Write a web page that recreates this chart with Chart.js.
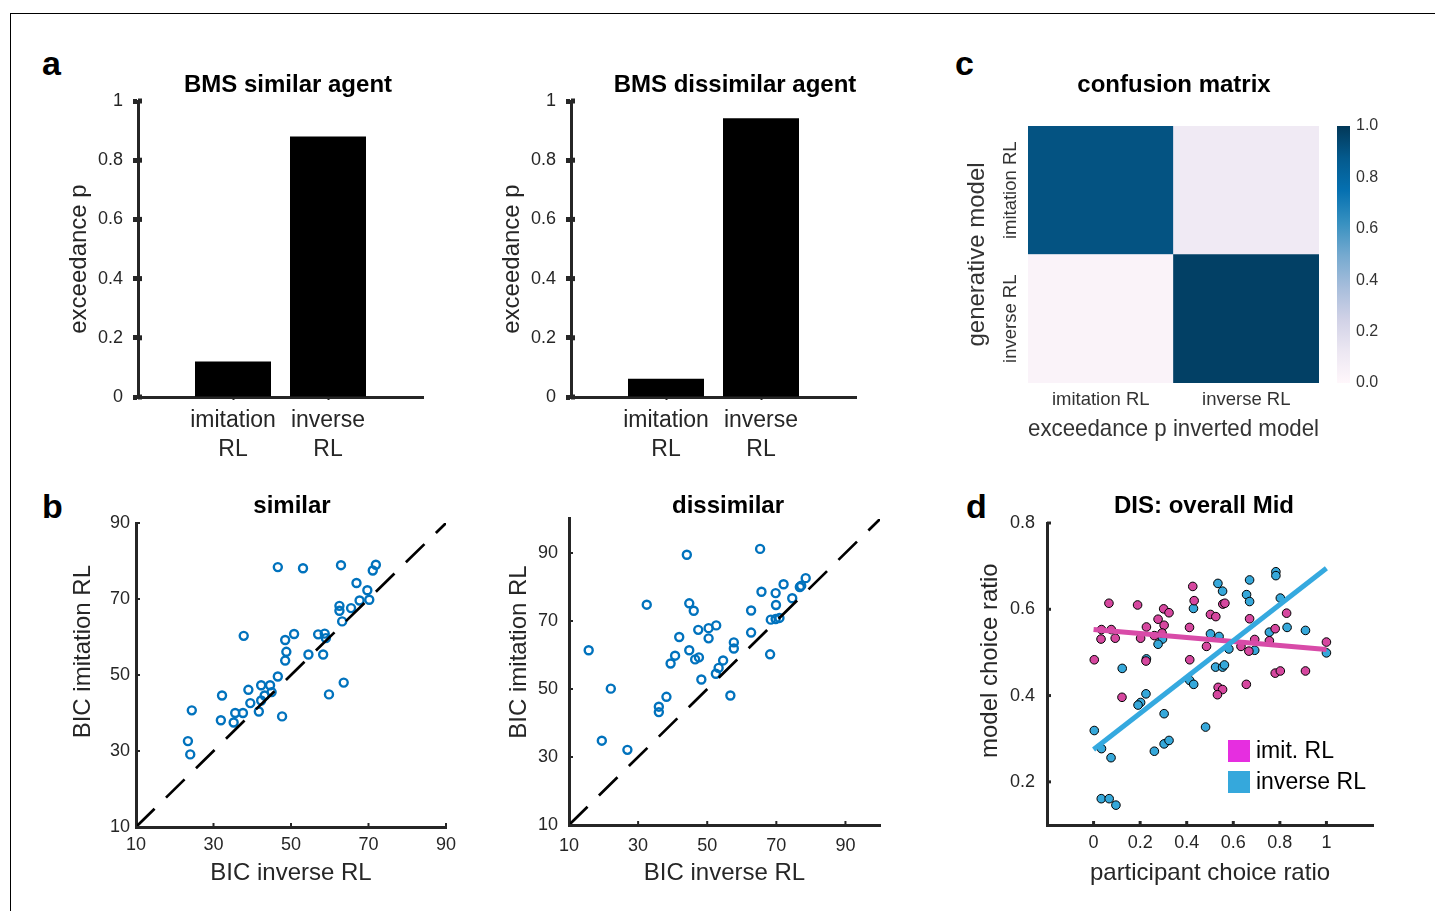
<!DOCTYPE html>
<html>
<head>
<meta charset="utf-8">
<script src="https://cdn.jsdelivr.net/npm/chart.js@4.4.1/dist/chart.umd.min.js"></script>
<style>
  body { margin: 0; background: #fff; width: 1435px; height: 911px; overflow: hidden; position: relative;
         font-family: 'Liberation Sans', Arial, Helvetica, sans-serif; }
  canvas { position: absolute; }
  .frame { position: absolute; left: 10px; top: 13px; width: 1430px; height: 900px;
           border-top: 1px solid #000; border-left: 1px solid #000; }
  .lbl { position: absolute; font-weight: bold; font-size: 34px; line-height: 34px; color: #000; }
</style>
</head>
<body>
<div class="frame"></div>
<div class="lbl" style="left:42px;top:46px">a</div>
<div class="lbl" style="left:42px;top:489px">b</div>
<div class="lbl" style="left:955px;top:46px">c</div>
<div class="lbl" style="left:966px;top:489px">d</div>
<script>
// panel a : exceedance p
const barCats = [['imitation', 'RL'], ['inverse', 'RL']];
const similarP = [0.12, 0.88];
const dissimilarP = [0.062, 0.942];
const pTicks = [0, 0.2, 0.4, 0.6, 0.8, 1];

// panel c : confusion matrix (rows = generative model, top to bottom)
const heatCols = ['imitation RL', 'inverse RL'];
const heatRows = ['imitation RL', 'inverse RL'];
const confusion = [[0.90, 0.10], [0.03, 0.97]];
const cbarTicks = [0, 0.2, 0.4, 0.6, 0.8, 1];

// panel b : BIC
const bicTicks = [10, 30, 50, 70, 90];
const simInv = [46.6, 53.1, 62.9, 71.9, 71.1, 66.9, 69.7, 67.7, 70.2, 62.5, 62.5, 65.5, 63.2, 37.8, 50.8, 57.0, 58.7, 59.0, 48.5, 48.8, 54.5, 58.3, 48.5, 46.6, 63.6, 59.8, 42.3, 44.6, 45.0, 43.2, 39.0, 32.2, 42.3, 39.5, 24.4, 35.6, 37.6, 41.7, 47.7, 31.9, 35.2, 23.4, 24.0];
const simImit = [78.4, 78.1, 78.9, 79.0, 77.5, 74.2, 72.3, 69.6, 69.8, 68.2, 66.9, 67.6, 64.1, 60.3, 60.8, 60.7, 60.9, 59.7, 59.2, 56.1, 55.4, 55.4, 53.8, 49.6, 48.0, 44.9, 47.3, 47.3, 45.5, 44.6, 46.1, 44.6, 43.3, 42.6, 40.7, 40.0, 40.0, 40.4, 39.1, 38.1, 37.5, 32.6, 29.1];
const disInv = [44.1, 65.3, 78.5, 72.1, 76.8, 77.2, 65.7, 69.8, 74.6, 69.9, 32.5, 44.8, 46.1, 62.7, 68.4, 69.8, 70.9, 52.6, 50.4, 47.4, 62.7, 41.9, 50.4, 57.7, 57.7, 44.8, 15.7, 40.7, 47.6, 46.5, 39.4, 54.6, 53.3, 52.5, 68.2, 48.3, 22.1, 38.2, 56.7, 36.0, 36.0, 19.5, 26.9];
const disImit = [89.5, 91.2, 82.6, 80.8, 80.0, 80.4, 78.6, 78.2, 76.7, 74.7, 74.8, 75.2, 73.0, 73.1, 70.4, 70.6, 70.9, 68.7, 67.9, 67.4, 66.6, 65.3, 64.9, 63.7, 61.9, 61.4, 61.4, 59.8, 59.3, 58.7, 57.5, 58.4, 56.2, 54.5, 60.2, 52.8, 50.1, 47.7, 48.1, 44.8, 43.2, 34.8, 32.1];

// panel d : choice ratios
const dXTicks = [0, 0.2, 0.4, 0.6, 0.8, 1];
const dYTicks = [0.2, 0.4, 0.6, 0.8];
const imitX = [0.066, 0.189, 0.426, 0.432, 0.670, 0.829, 0.555, 0.564, 0.301, 0.324, 0.277, 0.303, 0.227, 0.412, 0.034, 0.076, 0.032, 0.093, 0.202, 0.261, 0.294, 0.502, 0.525, 0.780, 0.755, 0.692, 0.633, 0.667, 0.485, 0.003, 0.225, 0.413, 0.122, 0.535, 0.554, 0.532, 0.656, 0.780, 0.802, 0.910, 1.000];
const imitY = [0.614, 0.610, 0.653, 0.620, 0.578, 0.591, 0.612, 0.614, 0.601, 0.592, 0.577, 0.563, 0.559, 0.558, 0.553, 0.553, 0.531, 0.533, 0.533, 0.539, 0.545, 0.588, 0.583, 0.555, 0.527, 0.530, 0.514, 0.503, 0.514, 0.483, 0.480, 0.483, 0.396, 0.419, 0.414, 0.402, 0.426, 0.452, 0.457, 0.457, 0.524];
const invX = [0.534, 0.554, 0.670, 0.783, 0.783, 0.657, 0.670, 0.802, 0.429, 0.831, 0.910, 0.755, 0.502, 0.539, 0.581, 0.692, 0.296, 0.277, 0.227, 1.000, 0.123, 0.524, 0.554, 0.562, 0.413, 0.430, 0.225, 0.202, 0.191, 0.303, 0.481, 0.003, 0.034, 0.075, 0.261, 0.303, 0.324, 0.033, 0.067, 0.096];
const invY = [0.660, 0.642, 0.668, 0.687, 0.678, 0.634, 0.618, 0.626, 0.602, 0.558, 0.551, 0.547, 0.543, 0.537, 0.508, 0.505, 0.531, 0.519, 0.485, 0.499, 0.463, 0.466, 0.466, 0.471, 0.435, 0.426, 0.404, 0.384, 0.378, 0.358, 0.327, 0.319, 0.277, 0.256, 0.271, 0.288, 0.296, 0.161, 0.161, 0.146];
const fitX = [0, 1];
const imitFit = [0.553, 0.507];
const invFit = [0.275, 0.695];

const FONT = "'Liberation Sans', Arial, Helvetica, sans-serif";
const INK = '#262626';
const PUBU = ['#fff7fb', '#ece7f2', '#d0d1e6', '#a6bddb', '#74a9cf', '#3690c0', '#0570b0', '#045a8d', '#023858'];

Chart.defaults.font.family = FONT;
Chart.defaults.color = INK;
Chart.defaults.animation = false;
Chart.defaults.plugins.legend.display = false;
Chart.defaults.plugins.tooltip.enabled = false;

const hex = h => [1, 3, 5].map(i => parseInt(h.substr(i, 2), 16));
function pubu(v) {
  const t = Math.min(Math.max(v, 0), 1) * (PUBU.length - 1);
  const i = Math.min(Math.floor(t), PUBU.length - 2), f = t - i;
  const a = hex(PUBU[i]), b = hex(PUBU[i + 1]);
  return 'rgb(' + a.map((c, k) => Math.round(c + (b[k] - c) * f)).join(',') + ')';
}

const fmt = v => String(+Number(v).toFixed(1));
const setTicks = arr => s => { s.ticks = arr.map(v => ({ value: v })); };
const pts = (xs, ys) => xs.map((x, i) => ({ x, y: ys[i] }));
// MATLAB ne centre pas exactement les titres d'axes : on décale avec des espaces
const nudge = (text, before, after) => ' '.repeat(before) + text + ' '.repeat(after);

function canvasAt(left, top, w, h) {
  const c = document.createElement('canvas');
  c.width = w; c.height = h;
  c.style.left = left + 'px'; c.style.top = top + 'px';
  document.body.appendChild(c);
  return c.getContext('2d');
}

// axe vide à droite, pour centrer le titre comme dans la figure
function spacer(w) {
  return { axis: 'y', position: 'right', min: 0, max: 1, display: true,
    grid: { display: false, drawTicks: false }, border: { display: false }, ticks: { display: false },
    afterFit: s => { s.width = w; } };
}

function titleOpt(text, top, bottom) {
  return { display: true, text, color: '#000', font: { size: 24, weight: 'bold' }, padding: { top, bottom } };
}

// petits traits de graduation vers l'intérieur (style MATLAB)
const innerTicks = {
  id: 'innerTicks',
  afterDatasetsDraw(chart, args, o) {
    if (!o.len) return;
    const { ctx, chartArea: a } = chart;
    ctx.save();
    ctx.strokeStyle = INK;
    ctx.lineWidth = o.width;
    (o.axes || ['x', 'y']).forEach(id => {
      const s = chart.scales[id];
      s.ticks.forEach(t => {
        const p = s.getPixelForValue(t.value);
        ctx.beginPath();
        if (s.isHorizontal()) { ctx.moveTo(p, a.bottom); ctx.lineTo(p, a.bottom - o.len); }
        else { ctx.moveTo(a.left, p); ctx.lineTo(a.left + o.len, p); }
        ctx.stroke();
      });
    });
    ctx.restore();
  }
};

// étiquettes verticales des lignes de la heatmap
const rowLabels = {
  id: 'rowLabels',
  afterDraw(chart, args, o) {
    if (!o.labels) return;
    const { ctx, chartArea: a, scales: { y } } = chart;
    ctx.save();
    ctx.font = o.size + 'px ' + FONT;
    ctx.fillStyle = o.color;
    ctx.textAlign = 'center';
    ctx.textBaseline = 'middle';
    o.labels.forEach((t, i) => {
      ctx.save();
      ctx.translate(a.left - o.offset, y.getPixelForValue(o.labels.length - i - 0.5));
      ctx.rotate(-Math.PI / 2);
      ctx.fillText(t, 0, 0);
      ctx.restore();
    });
    ctx.restore();
  }
};

// légende à carrés dans la zone du graphique (panel d)
const boxLegend = {
  id: 'boxLegend',
  afterDraw(chart, args, o) {
    if (!o.size) return;
    const { ctx, chartArea: a } = chart;
    const items = chart.data.datasets.filter(d => d.legendColor);
    ctx.save();
    ctx.font = o.font + 'px ' + FONT;
    ctx.textBaseline = 'middle';
    items.forEach((d, i) => {
      const x = a.left + o.x, y = a.top + o.y + i * o.step;
      ctx.fillStyle = d.legendColor;
      ctx.fillRect(x, y, o.size, o.size);
      ctx.fillStyle = '#000';
      ctx.fillText(d.label, x + o.size + 6, y + o.size / 2 + 1);
    });
    ctx.restore();
  }
};

Chart.register(innerTicks, rowLabels, boxLegend);

// ---- panel a ----
function barPanel(ctx, title, values, padRight) {
  return new Chart(ctx, {
    type: 'bar',
    data: {
      labels: ['', ...barCats, ''],
      datasets: [{ data: [null, ...values, null], backgroundColor: '#000', barPercentage: 0.8, categoryPercentage: 1 }]
    },
    options: {
      responsive: false,
      plugins: {
        title: titleOpt(title, 10.6, 1.6),
        innerTicks: { len: 4, width: 5, axes: ['y'] }
      },
      scales: {
        x: {
          offset: false,
          grid: { offset: false, drawOnChartArea: false, tickLength: 3, tickWidth: 2,
                  tickColor: c => (c.index === 1 || c.index === 2) ? INK : 'rgba(0,0,0,0)' },
          border: { color: INK, width: 3 },
          ticks: { color: INK, font: { size: 23, lineHeight: 1.25 }, padding: 6.6, maxRotation: 0, autoSkip: false },
          afterFit: s => { s.height = 75; }
        },
        y: {
          min: 0, max: 1,
          afterBuildTicks: setTicks(pTicks),
          grid: { drawOnChartArea: false, tickLength: 5, tickWidth: 5, color: INK },
          border: { color: INK, width: 3 },
          ticks: { font: { size: 18 }, padding: 10, callback: fmt },
          title: { display: true, text: nudge('exceedance p', 0, 3), font: { size: 24 }, padding: { top: 4.6, bottom: 0 } },
          afterFit: s => { s.width = 78; }
        },
        pad: spacer(padRight)
      }
    }
  });
}
barPanel(canvasAt(60, 60, 456, 412), 'BMS similar agent', similarP, 93);
barPanel(canvasAt(493, 60, 484, 412), 'BMS dissimilar agent', dissimilarP, 121);

// ---- panel c ----
new Chart(canvasAt(955, 60, 438, 393), {
  type: 'bar',
  data: {
    labels: heatCols,
    datasets: heatRows.map((r, i) => ({
      label: r,
      data: heatCols.map(() => 1),
      backgroundColor: confusion[i].map(pubu),
      borderWidth: 0, barPercentage: 1, categoryPercentage: 1
    })).reverse()
  },
  options: {
    responsive: false,
    plugins: {
      title: titleOpt('confusion matrix', 10.6, 26.6),
      rowLabels: { labels: heatRows, offset: 17, size: 18.5, color: '#333' }
    },
    scales: {
      x: {
        stacked: true,
        grid: { display: false, drawTicks: false }, border: { display: false },
        ticks: { color: '#333', font: { size: 18.5 }, padding: 5.9, maxRotation: 0 },
        title: { display: true, text: 'exceedance p inverted model', color: '#333', font: { size: 24 }, padding: { top: 0, bottom: 9 } },
        afterFit: s => { s.height = 70; }
      },
      y: {
        stacked: true, min: 0, max: 2,
        grid: { display: false, drawTicks: false }, border: { display: false },
        ticks: { display: false },
        title: { display: true, text: 'generative model', color: '#333', font: { size: 24 }, padding: { top: 7.6, bottom: 0 } },
        afterFit: s => { s.width = 73; }
      },
      pad: spacer(74)
    }
  }
});

// barre de couleur
new Chart(canvasAt(1330, 106, 70, 297), {
  type: 'bar',
  data: {
    labels: [''],
    datasets: [{
      data: [cbarTicks[cbarTicks.length - 1]],
      borderWidth: 0, barPercentage: 1, categoryPercentage: 1,
      backgroundColor: c => {
        const y = c.chart.scales.y;
        if (!y || !c.chart.chartArea) return PUBU[PUBU.length - 1];
        const g = c.chart.ctx.createLinearGradient(0, y.getPixelForValue(0), 0, y.getPixelForValue(1));
        PUBU.forEach((col, i) => g.addColorStop(i / (PUBU.length - 1), col));
        return g;
      }
    }]
  },
  options: {
    responsive: false,
    layout: { padding: { left: 7, top: 20, bottom: 20, right: 0 } },
    scales: {
      x: { display: false },
      y: {
        position: 'right', min: 0, max: 1,
        afterBuildTicks: setTicks(cbarTicks),
        grid: { display: false, drawTicks: false }, border: { display: false },
        ticks: { color: '#333', font: { size: 16 }, padding: 6, callback: v => Number(v).toFixed(1) },
        afterFit: s => { s.width = 50; }
      }
    }
  }
});

// ---- panel b ----
function bicPanel(ctx, p) {
  return new Chart(ctx, {
    type: 'scatter',
    data: {
      datasets: [
        { data: [{ x: 10, y: 10 }, { x: p.max, y: p.max }], showLine: true, pointRadius: 0,
          borderColor: '#000', borderWidth: 2.7, borderDash: [26, 16], order: 0 },
        { data: pts(p.xs, p.ys), pointRadius: 4, borderWidth: 2.4, borderColor: '#0072BD',
          backgroundColor: 'rgba(0,0,0,0)', order: 1 }
      ]
    },
    options: {
      responsive: false,
      plugins: {
        title: titleOpt(p.title, p.tTop, p.tBot),
        innerTicks: { len: 4, width: 2 }
      },
      scales: {
        x: {
          min: 10, max: p.max,
          afterBuildTicks: setTicks(bicTicks),
          grid: { drawOnChartArea: false, drawTicks: false },
          border: { color: INK, width: 3 },
          ticks: { font: { size: 18 }, padding: p.xPad, maxRotation: 0 },
          title: { display: true, text: 'BIC inverse RL', font: { size: 24 }, padding: { top: 0, bottom: 9.6 } },
          afterFit: s => { s.height = p.xH; }
        },
        y: {
          min: 10, max: p.max,
          afterBuildTicks: setTicks(bicTicks),
          grid: { drawOnChartArea: false, drawTicks: false },
          border: { color: INK, width: 3 },
          ticks: { font: { size: 18 }, padding: p.yPad },
          title: { display: true, text: nudge('BIC imitation RL', p.shift, 0), font: { size: 24 }, padding: { top: p.yTitle, bottom: 0 } },
          afterFit: s => { s.width = p.yW; }
        },
        pad: spacer(p.padRight)
      }
    }
  });
}
bicPanel(canvasAt(60, 488, 464, 409), { title: 'similar', xs: simInv, ys: simImit, max: 90, shift: 7,
  tTop: 3.6, tBot: 2.6, xPad: 7.2, xH: 70, yPad: 6, yTitle: 8.6, yW: 76, padRight: 78 });
bicPanel(canvasAt(500, 489, 456, 408), { title: 'dissimilar', xs: disInv, ys: disImit, max: 100, shift: 6,
  tTop: 3.2, tBot: -2, xPad: 10, xH: 72, yPad: 11, yTitle: 4.6, yW: 69, padRight: 76 });

// ---- panel d ----
new Chart(canvasAt(975, 488, 458, 409), {
  type: 'scatter',
  data: {
    datasets: [
      { label: 'imit. RL', legendColor: '#e62ee0', data: pts(fitX, imitFit), showLine: true, pointRadius: 0,
        borderColor: '#d84ba8', borderWidth: 5, order: 1 },
      { label: 'inverse RL', legendColor: '#35a8dc', data: pts(fitX, invFit), showLine: true, pointRadius: 0,
        borderColor: '#35a9df', borderWidth: 5, order: 0 },
      { data: pts(imitX, imitY), pointRadius: 4.3, borderWidth: 1, borderColor: '#000',
        backgroundColor: '#d6479f', order: 2 },
      { data: pts(invX, invY), pointRadius: 4.3, borderWidth: 1, borderColor: '#000',
        backgroundColor: '#36a8da', order: 3 }
    ]
  },
  options: {
    responsive: false,
    plugins: {
      title: titleOpt('DIS: overall Mid', 3.6, 2.6),
      innerTicks: { len: 4, width: 3 },
      boxLegend: { x: 181, y: 217, step: 31, size: 22, font: 23 }
    },
    scales: {
      x: {
        min: -0.2, max: 1.2,
        afterBuildTicks: setTicks(dXTicks),
        grid: { drawOnChartArea: false, drawTicks: false },
        border: { color: INK, width: 3 },
        ticks: { font: { size: 18 }, padding: 7.2, maxRotation: 0, autoSkip: false, callback: fmt },
        title: { display: true, text: 'participant choice ratio', font: { size: 24 }, padding: { top: 0, bottom: 9.6 } },
        afterFit: s => { s.height = 72; }
      },
      y: {
        min: 0.1, max: 0.8,
        afterBuildTicks: setTicks(dYTicks),
        grid: { drawOnChartArea: false, drawTicks: false },
        border: { color: INK, width: 3 },
        ticks: { font: { size: 18 }, padding: 12, callback: fmt },
        title: { display: true, text: nudge('model choice ratio', 4, 0), font: { size: 24 }, padding: { top: 0.6, bottom: 0 } },
        afterFit: s => { s.width = 72; }
      },
      pad: spacer(60)
    }
  }
});
</script>
</body>
</html>
